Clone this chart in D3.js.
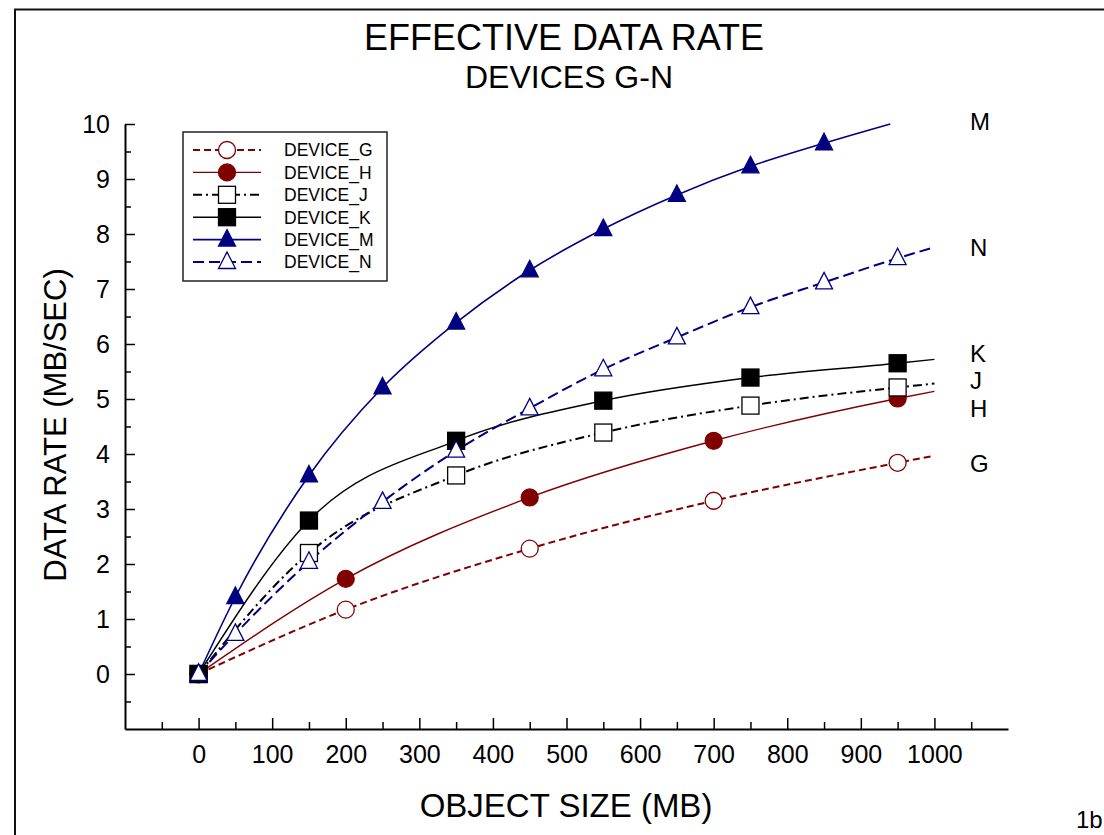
<!DOCTYPE html>
<html lang="en">
<head>
    <meta charset="UTF-8">
    <title>Effective Data Rate</title>
    <style>
        body { margin: 0; background: #fff; }
        svg text { font-family: "Liberation Sans", Arial, sans-serif; fill: #000; }
    </style>
</head>
<body>
    <div id="chart"></div>

    <script src="https://d3js.org/d3.v7.min.js"></script>
    <script>
        // object size (MB) and data rate (MB/sec); last point of each list is where the line stops (no marker)
        const sizeG = [0, 200, 450, 700, 950, 1000];
        const rateG = [0, 1.17, 2.28, 3.15, 3.84, 3.97];
        const sizeH = [0, 200, 450, 700, 950, 1000];
        const rateH = [0, 1.73, 3.21, 4.24, 5.01, 5.14];
        const sizeJ = [0, 150, 350, 550, 750, 950, 1000];
        const rateJ = [0, 2.20, 3.61, 4.39, 4.88, 5.21, 5.28];
        const sizeK = [0, 150, 350, 550, 750, 950, 1000];
        const rateK = [0, 2.79, 4.24, 4.97, 5.39, 5.65, 5.72];
        const sizeM = [0, 50, 150, 250, 350, 450, 550, 650, 750, 850, 940];
        const rateM = [0, 1.40, 3.61, 5.21, 6.39, 7.34, 8.09, 8.71, 9.23, 9.65, 10.0];
        const sizeN = [0, 50, 150, 250, 350, 450, 550, 650, 750, 850, 950, 1000];
        const rateN = [0, 0.73, 2.04, 3.13, 4.06, 4.83, 5.54, 6.12, 6.67, 7.12, 7.56, 7.76];

        const deviceNames = ["DEVICE_G", "DEVICE_H", "DEVICE_J", "DEVICE_K", "DEVICE_M", "DEVICE_N"];
        const endLabels = ["G", "H", "J", "K", "M", "N"];
        const xTickLabels = [0, 100, 200, 300, 400, 500, 600, 700, 800, 900, 1000];
        const yTickLabels = [0, 1, 2, 3, 4, 5, 6, 7, 8, 9, 10];

        const red = "#800000";
        const navy = "#000080";

        const series = [
            { name: deviceNames[0], sizes: sizeG, rates: rateG, color: red, dash: "7,4", lw: 2, shape: "circle", filled: false },
            { name: deviceNames[1], sizes: sizeH, rates: rateH, color: red, dash: null, lw: 1.4, shape: "circle", filled: true },
            { name: deviceNames[2], sizes: sizeJ, rates: rateJ, color: "#000", dash: "9,4,2,4", lw: 2, shape: "square", filled: false },
            { name: deviceNames[3], sizes: sizeK, rates: rateK, color: "#000", dash: null, lw: 1.4, shape: "square", filled: true },
            { name: deviceNames[4], sizes: sizeM, rates: rateM, color: navy, dash: null, lw: 1.6, shape: "triangle", filled: true },
            { name: deviceNames[5], sizes: sizeN, rates: rateN, color: navy, dash: "11,5", lw: 2, shape: "triangle", filled: false }
        ];

        // right-hand labels: y position in data units
        const endLabelY = { G: 3.83, H: 4.83, J: 5.33, K: 5.83, M: 10.05, N: 7.75 };

        const width = 1104, height = 835;

        const svg = d3.select("#chart").append("svg")
            .attr("width", width)
            .attr("height", height);

        // frame on top and left edge
        svg.append("path")
            .attr("d", `M15,${height} V9.5 H${width}`)
            .attr("fill", "none")
            .attr("stroke", "#111")
            .attr("stroke-width", 2);

        const x = d3.scaleLinear().domain([-100, 1100]).range([125, 1008]);
        const y = d3.scaleLinear().domain([-1, 10]).range([729, 124]);

        // axes: ticks point inward
        const xMinor = d3.range(-50, 1100, 100);
        const yMinor = d3.range(-0.5, 10, 1);

        const gx = svg.append("g").attr("transform", `translate(0,${y(-1)})`);
        gx.call(d3.axisBottom(x).tickValues(xTickLabels).tickSize(-11).tickSizeOuter(0)
            .tickPadding(16).tickFormat(d3.format("d")));
        gx.append("g").call(d3.axisBottom(x).tickValues(xMinor).tickSize(-7).tickFormat(""))
            .select(".domain").remove();

        const gy = svg.append("g").attr("transform", `translate(${x(-100)},0)`);
        gy.call(d3.axisLeft(y).tickValues(yTickLabels).tickSize(-10).tickSizeOuter(0)
            .tickPadding(15).tickFormat(d3.format("d")));
        gy.append("g").call(d3.axisLeft(y).tickValues(yMinor).tickSize(-6).tickFormat(""))
            .select(".domain").remove();

        svg.selectAll(".domain").attr("stroke", "#000").attr("stroke-width", 2);
        svg.selectAll(".tick line").attr("stroke", "#000").attr("stroke-width", 1.5);
        svg.selectAll(".tick text")
            .attr("font-size", 25)
            .attr("font-family", "Liberation Sans, Arial, sans-serif")
            .attr("fill", "#000");
        gx.selectAll(".tick text").attr("dy", "0.71em");

        // titles
        svg.append("text").attr("x", 564).attr("y", 50).attr("text-anchor", "middle")
            .attr("font-size", 36).text("EFFECTIVE DATA RATE");
        svg.append("text").attr("x", 569).attr("y", 88).attr("text-anchor", "middle")
            .attr("font-size", 32).text("DEVICES G-N");
        svg.append("text").attr("x", 566).attr("y", 817).attr("text-anchor", "middle")
            .attr("font-size", 33).text("OBJECT SIZE (MB)");
        svg.append("text")
            .attr("transform", "translate(66,425) rotate(-90)")
            .attr("text-anchor", "middle")
            .attr("font-size", 31).text("DATA RATE (MB/SEC)");
        svg.append("text").attr("x", 1076).attr("y", 828)
            .attr("font-size", 24).text("1b");

        const line = d3.line()
            .x(d => x(d[0]))
            .y(d => y(d[1]))
            .curve(d3.curveMonotoneX);

        function marker(g, s, cx, cy) {
            const fill = s.filled ? s.color : "#fff";
            if (s.shape === "circle") {
                g.append("circle").attr("cx", cx).attr("cy", cy).attr("r", 8.5)
                    .attr("fill", fill).attr("stroke", s.color).attr("stroke-width", 1.3);
            } else if (s.shape === "square") {
                g.append("rect").attr("x", cx - 8.5).attr("y", cy - 8.5).attr("width", 17).attr("height", 17)
                    .attr("fill", fill).attr("stroke", s.color).attr("stroke-width", 1.3);
            } else {
                g.append("path").attr("d", `M${cx},${cy - 10}L${cx + 8.5},${cy + 6.5}L${cx - 8.5},${cy + 6.5}Z`)
                    .attr("fill", fill).attr("stroke", s.color).attr("stroke-width", 1.3);
            }
        }

        const plot = svg.append("g");
        series.forEach(s => {
            const pts = s.sizes.map((v, i) => [v, s.rates[i]]);
            plot.append("path")
                .attr("d", line(pts))
                .attr("fill", "none")
                .attr("stroke", s.color)
                .attr("stroke-width", s.lw)
                .attr("stroke-dasharray", s.dash);
        });
        series.forEach(s => {
            const g = plot.append("g");
            // last point is line end only
            s.sizes.slice(0, -1).forEach((v, i) => marker(g, s, x(v), y(s.rates[i])));
        });

        // end labels on the right
        endLabels.forEach(l => {
            svg.append("text").attr("x", 970).attr("y", y(endLabelY[l]))
                .attr("dy", "0.36em").attr("font-size", 24).text(l);
        });

        // legend
        const legend = svg.append("g");
        legend.append("rect").attr("x", 183).attr("y", 132).attr("width", 204).attr("height", 149)
            .attr("fill", "#fff").attr("stroke", "#222").attr("stroke-width", 1.5);
        series.forEach((s, i) => {
            const ly = 150 + i * 22.4;
            legend.append("line").attr("x1", 193).attr("x2", 261).attr("y1", ly).attr("y2", ly)
                .attr("stroke", s.color).attr("stroke-width", s.lw).attr("stroke-dasharray", s.dash);
            marker(legend, s, 227, ly);
            legend.append("text").attr("x", 284).attr("y", ly).attr("dy", "0.36em")
                .attr("font-size", 17.5).text(s.name);
        });
    </script>
</body>
</html>
